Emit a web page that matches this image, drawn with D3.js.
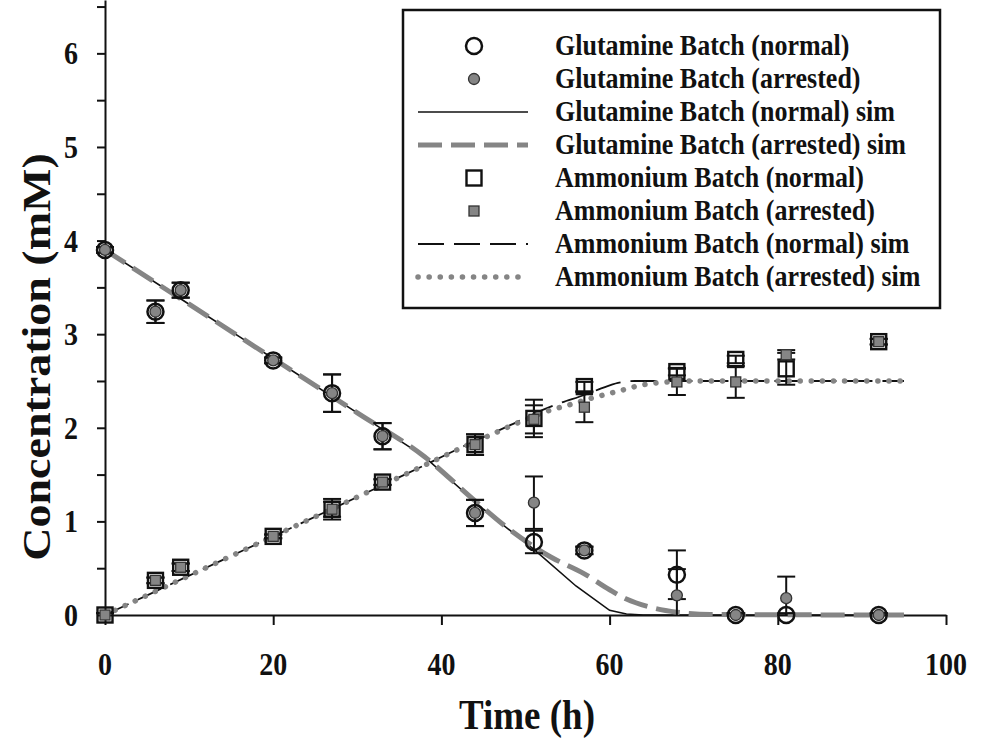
<!DOCTYPE html>
<html>
<head>
<meta charset="utf-8">
<script src="https://cdn.jsdelivr.net/npm/d3@7"></script>
<style>
  html, body { margin: 0; padding: 0; background: #ffffff; }
  svg text { font-family: "Liberation Serif", "Times New Roman", serif; font-weight: bold; fill: #111; }
</style>
</head>
<body>
<svg id="chart" width="982" height="741"></svg>
<script>
// Sampling times (h)
const timeH = [0, 6, 9, 20, 27, 33, 44, 51, 57, 68, 75, 81, 92];

// Measured glutamine (mM) with error
const glnNormal      = [3.90, 3.24, 3.47, 2.72, 2.37, 1.91, 1.09, 0.78, 0.69, 0.43, 0.00, 0.00, 0.00];
const glnNormalErr   = [0.03, 0.12, 0.08, 0.03, 0.20, 0.14, 0.14, 0.12, 0.04, 0.26, 0.02, 0.02, 0.02];
const glnArrested    = [3.90, 3.24, 3.47, 2.72, 2.37, 1.91, 1.09, 1.20, 0.69, 0.21, 0.00, 0.18, 0.00];
const glnArrestedErr = [0.03, 0.12, 0.08, 0.03, 0.20, 0.14, 0.14, 0.28, 0.04, 0.28, 0.02, 0.23, 0.02];

// Measured ammonium (mM) with error
const nh4Normal      = [0.00, 0.37, 0.51, 0.84, 1.13, 1.42, 1.82, 2.10, 2.44, 2.60, 2.73, 2.63, 2.92];
const nh4NormalErr   = [0.02, 0.03, 0.04, 0.02, 0.08, 0.03, 0.11, 0.20, 0.05, 0.04, 0.04, 0.17, 0.03];
const nh4Arrested    = [0.00, 0.37, 0.51, 0.84, 1.13, 1.42, 1.82, 2.09, 2.22, 2.49, 2.49, 2.78, 2.92];
const nh4ArrestedErr = [0.02, 0.03, 0.04, 0.02, 0.11, 0.03, 0.11, 0.15, 0.16, 0.14, 0.17, 0.05, 0.03];

// Simulated profiles
const glnNormalSimT = [0, 10, 20, 30, 38, 45, 51, 56, 60, 62, 64, 95];
const glnNormalSim  = [3.90, 3.32, 2.74, 2.16, 1.69, 1.13, 0.70, 0.31, 0.05, 0.01, 0.00, 0.00];
const glnArrestedSimT = [0, 10, 20, 30, 38, 44, 48, 53, 57, 60, 62, 65, 68, 72, 95];
const glnArrestedSim  = [3.90, 3.32, 2.74, 2.16, 1.69, 1.22, 0.92, 0.62, 0.44, 0.27, 0.17, 0.08, 0.03, 0.005, 0.00];
const nh4NormalSimT = [0, 10, 20, 30, 38, 44, 48, 51, 54, 57, 59, 61, 63, 95];
const nh4NormalSim  = [0.00, 0.42, 0.84, 1.26, 1.60, 1.86, 2.02, 2.15, 2.26, 2.35, 2.42, 2.48, 2.50, 2.50];
const nh4ArrestedSimT = [0, 10, 20, 30, 38, 42, 46, 49, 52, 55, 58, 61, 64, 67, 70, 95];
const nh4ArrestedSim  = [0.00, 0.42, 0.84, 1.26, 1.60, 1.77, 1.93, 2.05, 2.16, 2.24, 2.32, 2.39, 2.46, 2.49, 2.50, 2.50];

// Axis ticks and labels
const xTicks = [0, 20, 40, 60, 80, 100];
const yTicks = [0, 0.5, 1, 1.5, 2, 2.5, 3, 3.5, 4, 4.5, 5, 5.5, 6, 6.5];
const yLabels = [0, 1, 2, 3, 4, 5, 6];
const xTitle = "Time (h)";
const yTitle = "Concentration (mM)";

const legendLabels = [
  "Glutamine Batch (normal)",
  "Glutamine Batch (arrested)",
  "Glutamine Batch (normal) sim",
  "Glutamine Batch (arrested) sim",
  "Ammonium Batch (normal)",
  "Ammonium Batch (arrested)",
  "Ammonium Batch (normal) sim",
  "Ammonium Batch (arrested) sim"
];

const GRAY = "#858585";
const DARK = "#111";
const TEXT_STRETCH = 1.15;   // tall, narrow lettering

const svg = d3.select("#chart");
const x = d3.scaleLinear().domain([0, 100]).range([105, 946]);
const y = d3.scaleLinear().domain([0, 6.57]).range([615, 0]);

// text placed at (px,py) and stretched vertically around its baseline
function tallText(parent, px, py, str, size, anchor) {
  return parent.append("text").attr("text-anchor", anchor || "start")
    .style("font-size", size + "px")
    .attr("transform", `translate(${px},${py}) scale(1,${TEXT_STRETCH})`)
    .text(str);
}

// Axes
const gx = svg.append("g").attr("transform", `translate(0,${y(0)})`)
  .call(d3.axisBottom(x).tickValues(xTicks).tickSize(10).tickSizeOuter(0).tickFormat(""));
gx.select(".domain").attr("stroke", DARK).attr("stroke-width", 2);
gx.selectAll(".tick line").attr("stroke", DARK).attr("stroke-width", 2);

const gy = svg.append("g").attr("transform", `translate(${x(0)},0)`)
  .call(d3.axisLeft(y).tickValues(yTicks).tickSize(8).tickSizeOuter(0).tickFormat(""));
gy.select(".domain").attr("stroke", DARK).attr("stroke-width", 2);
gy.selectAll(".tick line").attr("stroke", DARK).attr("stroke-width", 2);

xTicks.forEach(v => tallText(svg, x(v), 675, String(v), 28, "middle"));
yLabels.forEach(v => tallText(svg, 78, y(v) + 11, String(v), 28, "end"));

tallText(svg, 527, 729, xTitle, 37, "middle");
// rotated title: the vertical stretch runs along the text
svg.append("text").attr("text-anchor", "middle").style("font-size", "40px")
  .attr("transform", `translate(50,357) scale(1,${TEXT_STRETCH}) rotate(-90)`).text(yTitle);

// Simulated lines
const line = d3.line().x(d => x(d[0])).y(d => y(d[1]));
const lineSmooth = d3.line().x(d => x(d[0])).y(d => y(d[1])).curve(d3.curveMonotoneX);
const zip = (t, v) => t.map((ti, i) => [ti, v[i]]);

const simStyles = [
  { data: zip(nh4ArrestedSimT, nh4ArrestedSim), gen: lineSmooth, stroke: GRAY, width: 5.5, dash: "0.1,11", cap: "round" },
  { data: zip(nh4NormalSimT, nh4NormalSim), gen: lineSmooth, stroke: DARK, width: 1.8, dash: "26,10", cap: "butt" },
  { data: zip(glnArrestedSimT, glnArrestedSim), gen: lineSmooth, stroke: GRAY, width: 5, dash: "24,9", cap: "butt" },
  { data: zip(glnNormalSimT, glnNormalSim), gen: line, stroke: DARK, width: 1.6, dash: null, cap: "butt" }
];
// gln normal under gln arrested, ammonium dotted on top of its dashed partner
[3, 2, 1, 0].forEach(i => {
  const s = simStyles[i];
  svg.append("path").attr("d", s.gen(s.data)).attr("fill", "none")
    .attr("stroke", s.stroke).attr("stroke-width", s.width)
    .attr("stroke-dasharray", s.dash).attr("stroke-linecap", s.cap);
});

// Error bars (clipped at zero)
function errorBars(vals, errs) {
  const g = svg.append("g").attr("stroke", DARK).attr("stroke-width", 2);
  timeH.forEach((t, i) => {
    const cx = x(t);
    const hi = vals[i] + errs[i];
    const lo = Math.max(0, vals[i] - errs[i]);
    g.append("line").attr("x1", cx).attr("x2", cx).attr("y1", y(hi)).attr("y2", y(lo));
    g.append("line").attr("x1", cx - 9).attr("x2", cx + 9).attr("y1", y(hi)).attr("y2", y(hi));
    if (vals[i] - errs[i] >= 0)
      g.append("line").attr("x1", cx - 9).attr("x2", cx + 9).attr("y1", y(lo)).attr("y2", y(lo));
  });
}
errorBars(nh4Normal, nh4NormalErr);
errorBars(nh4Arrested, nh4ArrestedErr);
errorBars(glnNormal, glnNormalErr);
errorBars(glnArrested, glnArrestedErr);

// Markers
const markerDraw = {
  openCircle: (g, cx, cy) => g.append("circle").attr("cx", cx).attr("cy", cy).attr("r", 8)
    .attr("fill", "none").attr("stroke", DARK).attr("stroke-width", 2.5),
  grayCircle: (g, cx, cy) => g.append("circle").attr("cx", cx).attr("cy", cy).attr("r", 5.5)
    .attr("fill", GRAY).attr("stroke", "#333").attr("stroke-width", 1.3),
  openSquare: (g, cx, cy) => g.append("rect").attr("x", cx - 7.5).attr("y", cy - 7.5).attr("width", 15).attr("height", 15)
    .attr("fill", "none").attr("stroke", DARK).attr("stroke-width", 2.4),
  graySquare: (g, cx, cy) => g.append("rect").attr("x", cx - 5).attr("y", cy - 5).attr("width", 10).attr("height", 10)
    .attr("fill", GRAY).attr("stroke", "#333").attr("stroke-width", 1.3)
};
function markers(vals, kind) {
  const g = svg.append("g");
  timeH.forEach((t, i) => markerDraw[kind](g, x(t), y(vals[i])));
}
markers(nh4Normal, "openSquare");
markers(nh4Arrested, "graySquare");
markers(glnNormal, "openCircle");
markers(glnArrested, "grayCircle");

// Legend
const lg = svg.append("g");
lg.append("rect").attr("x", 403).attr("y", 10).attr("width", 537).attr("height", 298)
  .attr("fill", "#fff").attr("stroke", DARK).attr("stroke-width", 2.5);
const rowY = i => 46 + i * 33;
const symX = 474, lineX0 = 418, lineX1 = 528, textX = 555;
legendLabels.forEach((lab, i) => tallText(lg, textX, rowY(i) + 9, lab, 26, "start"));
markerDraw.openCircle(lg, symX, rowY(0));
markerDraw.grayCircle(lg, symX, rowY(1));
markerDraw.openSquare(lg, symX, rowY(4));
markerDraw.graySquare(lg, symX, rowY(5));
[[2, 3], [3, 2], [6, 1], [7, 0]].forEach(([row, si]) => {
  const s = simStyles[si];
  lg.append("line").attr("x1", lineX0).attr("x2", lineX1).attr("y1", rowY(row)).attr("y2", rowY(row))
    .attr("stroke", s.stroke).attr("stroke-width", s.width)
    .attr("stroke-dasharray", s.dash).attr("stroke-linecap", s.cap);
});
</script>
</body>
</html>
